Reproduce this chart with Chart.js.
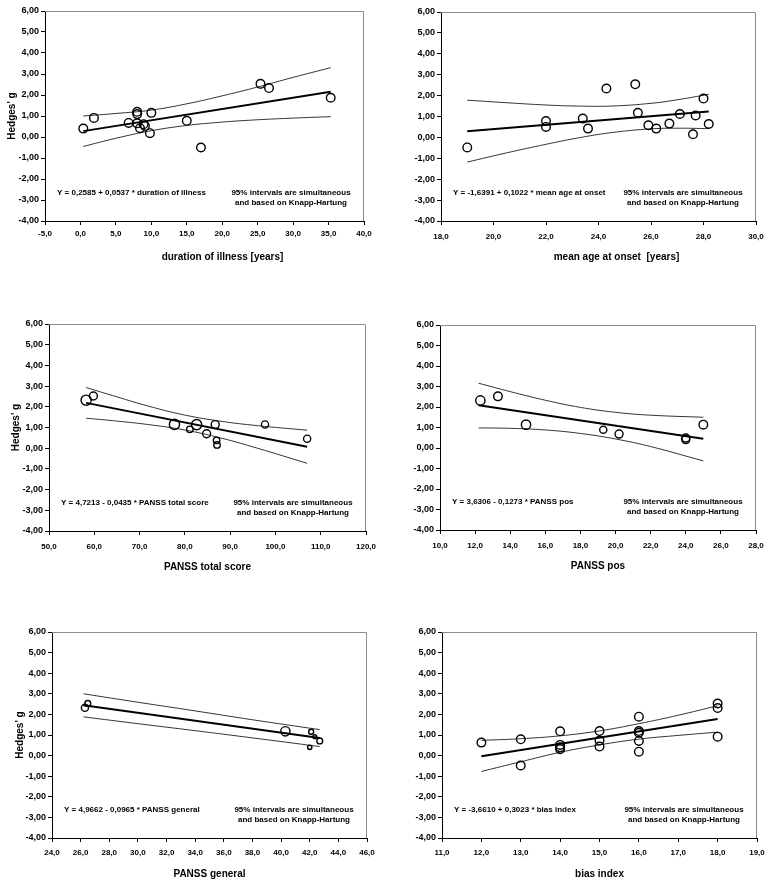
<!DOCTYPE html>
<html>
<head>
<meta charset="utf-8">
<script src="https://cdn.jsdelivr.net/npm/chart.js@4.4.1/dist/chart.umd.min.js"></script>
<style>
  body { margin: 0; background: #fff; width: 773px; height: 885px; position: relative; overflow: hidden; }
  canvas { position: absolute; }
</style>
</head>
<body>
<canvas id="pDuration"></canvas>
<canvas id="pOnset"></canvas>
<canvas id="pTotal"></canvas>
<canvas id="pPos"></canvas>
<canvas id="pGeneral"></canvas>
<canvas id="pBias"></canvas>
<script>
// Duration of illness
const durX = [0.4, 1.9, 6.8, 8.0, 8.0, 8.0, 8.4, 8.9, 9.1, 9.8, 10.0, 15.0, 17.0, 25.4, 26.6, 35.3];
const durY = [0.40, 0.91, 0.67, 1.20, 1.09, 0.65, 0.42, 0.61, 0.52, 0.18, 1.15, 0.77, -0.50, 2.53, 2.33, 1.87];
const durLineX = [0.4, 35.3];
const durLineY = [0.28, 2.15];
const durCiX = [0.4, 5, 10, 15, 20, 25, 30, 35.3];
const durCiUp = [1.00, 1.12, 1.28, 1.58, 1.96, 2.38, 2.84, 3.30];
const durCiLo = [-0.45, -0.06, 0.30, 0.55, 0.71, 0.82, 0.90, 0.97];

// Mean age at onset
const onsetX = [19.0, 22.0, 22.0, 23.4, 23.6, 24.3, 25.4, 25.5, 25.9, 26.2, 26.7, 27.1, 27.6, 27.7, 28.0, 28.2];
const onsetY = [-0.48, 0.78, 0.50, 0.90, 0.42, 2.34, 2.54, 1.18, 0.58, 0.42, 0.66, 1.12, 0.15, 1.05, 1.86, 0.64];
const onsetLineX = [19.0, 28.2];
const onsetLineY = [0.30, 1.24];
const onsetCiX = [19, 20.5, 22, 23.2, 24.5, 26, 27, 28.2];
const onsetCiUp = [1.78, 1.66, 1.55, 1.50, 1.50, 1.63, 1.80, 2.06];
const onsetCiLo = [-1.18, -0.74, -0.33, -0.03, 0.23, 0.41, 0.44, 0.42];

// PANSS total score (weights = relative study weight shown by marker size)
const totX = [58.2, 59.8, 77.7, 81.1, 82.6, 84.8, 86.7, 87.0, 87.1, 97.7, 107.0];
const totY = [2.32, 2.52, 1.15, 0.91, 1.14, 0.70, 1.14, 0.38, 0.16, 1.15, 0.46];
const totW = [1.18, 0.93, 1.18, 0.75, 1.18, 0.93, 0.93, 0.75, 0.75, 0.83, 0.83];
const totLineX = [58.2, 107.0];
const totLineY = [2.19, 0.07];
const totCiX = [58.2, 65, 72, 80, 88, 96, 107];
const totCiUp = [2.93, 2.48, 2.03, 1.60, 1.30, 1.09, 0.87];
const totCiLo = [1.45, 1.31, 1.14, 0.88, 0.49, 0.00, -0.73];

// PANSS pos
const posX = [12.3, 13.3, 14.9, 19.3, 20.2, 24.0, 24.0, 25.0];
const posY = [2.32, 2.52, 1.14, 0.89, 0.68, 0.49, 0.41, 1.14];
const posW = [1.08, 1, 1.08, 0.83, 0.93, 0.93, 0.93, 1];
const posLineX = [12.2, 25.0];
const posLineY = [2.08, 0.45];
const posCiX = [12.2, 14, 16, 18, 20, 22, 25];
const posCiUp = [3.16, 2.75, 2.33, 1.98, 1.74, 1.60, 1.50];
const posCiLo = [0.98, 0.96, 0.88, 0.71, 0.44, 0.07, -0.63];

// PANSS general
const genX = [26.3, 26.5, 40.3, 42.1, 42.35, 42.0, 42.7];
const genY = [2.32, 2.53, 1.18, 1.16, 0.92, 0.40, 0.71];
const genW = [0.83, 0.68, 1.08, 0.58, 0.43, 0.5, 0.68];
const genLineX = [26.2, 42.7];
const genLineY = [2.44, 0.85];
const genCiX = [26.2, 30, 34, 38, 42.7];
const genCiUp = [3.00, 2.59, 2.17, 1.74, 1.26];
const genCiLo = [1.88, 1.55, 1.21, 0.86, 0.44];

// Bias index
const biasX = [12, 13, 13, 14, 14, 14, 14, 15, 15, 15, 16, 16, 16, 16, 16, 18, 18, 18];
const biasY = [0.63, 0.79, -0.48, 1.18, 0.52, 0.40, 0.31, 1.19, 0.73, 0.44, 1.89, 1.19, 1.11, 0.71, 0.19, 2.53, 2.31, 0.92];
const biasLineX = [12, 18];
const biasLineY = [-0.03, 1.78];
const biasCiX = [12, 13, 14, 15, 16, 17, 18];
const biasCiUp = [0.74, 0.82, 0.96, 1.20, 1.55, 1.96, 2.42];
const biasCiLo = [-0.77, -0.30, 0.16, 0.52, 0.80, 0.98, 1.14];

const yTicks = { min: -4, max: 6, step: 1 };
const noteLines = ['95% intervals are simultaneous', 'and based on Knapp-Hartung'];
const FONT = "'Liberation Sans', Arial, sans-serif";
const MARKER = 4.3;

const panels = [
  { id: 'pDuration', box: [0, 0, 390, 290], area: [45, 11, 364, 221],
    x: durX, y: durY, w: null, lineX: durLineX, lineY: durLineY, ciX: durCiX, ciUp: durCiUp, ciLo: durCiLo,
    xMin: -5, xMax: 40, xStep: 5, tickPad: 4, yTitle: 12, xShift: 18,
    xTitle: 'duration of illness [years]', eq: 'Y = 0,2585 + 0,0537 * duration of illness' },
  { id: 'pOnset', box: [390, 0, 383, 290], area: [441, 12, 756, 221],
    x: onsetX, y: onsetY, w: null, lineX: onsetLineX, lineY: onsetLineY, ciX: onsetCiX, ciUp: onsetCiUp, ciLo: onsetCiLo,
    xMin: 18, xMax: 30, xStep: 2, tickPad: 7, yTitle: null, xShift: 18,
    xTitle: 'mean age at onset  [years]', eq: 'Y = -1,6391 + 0,1022 * mean age at onset' },
  { id: 'pTotal', box: [0, 290, 390, 295], area: [49, 324, 366, 531],
    x: totX, y: totY, w: totW, lineX: totLineX, lineY: totLineY, ciX: totCiX, ciUp: totCiUp, ciLo: totCiLo,
    xMin: 50, xMax: 120, xStep: 10, tickPad: 7, yTitle: 16.7, xShift: 0,
    xTitle: 'PANSS total score', eq: 'Y = 4,7213 - 0,0435 * PANSS total score' },
  { id: 'pPos', box: [390, 290, 383, 295], area: [440, 325, 756, 530],
    x: posX, y: posY, w: posW, lineX: posLineX, lineY: posLineY, ciX: posCiX, ciUp: posCiUp, ciLo: posCiLo,
    xMin: 10, xMax: 28, xStep: 2, tickPad: 7, yTitle: null, xShift: 0,
    xTitle: 'PANSS pos', eq: 'Y = 3,6306 - 0,1273 * PANSS pos' },
  { id: 'pGeneral', box: [0, 585, 390, 300], area: [52, 632, 367, 838],
    x: genX, y: genY, w: genW, lineX: genLineX, lineY: genLineY, ciX: genCiX, ciUp: genCiUp, ciLo: genCiLo,
    xMin: 24, xMax: 46, xStep: 2, tickPad: 6, yTitle: 19.8, xShift: 0,
    xTitle: 'PANSS general', eq: 'Y = 4,9662 - 0,0965 * PANSS general' },
  { id: 'pBias', box: [390, 585, 383, 300], area: [442, 632, 757, 838],
    x: biasX, y: biasY, w: null, lineX: biasLineX, lineY: biasLineY, ciX: biasCiX, ciUp: biasCiUp, ciLo: biasCiLo,
    xMin: 11, xMax: 19, xStep: 1, tickPad: 6, yTitle: null, xShift: 0,
    xTitle: 'bias index', eq: 'Y = -3,6610 + 0,3023 * bias index' }
];

// gray frame on top/right + texts inside the plot
const panelNotes = {
  id: 'panelNotes',
  beforeDatasetsDraw(chart) {
    const { ctx, chartArea: a } = chart;
    const t = Math.round(a.top) + 0.5, r = Math.round(a.right) - 0.5;
    ctx.save();
    ctx.strokeStyle = '#8c8c8c';
    ctx.lineWidth = 1;
    ctx.beginPath();
    ctx.moveTo(a.left, t);
    ctx.lineTo(r, t);
    ctx.lineTo(r, a.bottom);
    ctx.stroke();
    ctx.restore();
  },
  afterDraw(chart, args, o) {
    const { ctx, chartArea: a } = chart;
    ctx.save();
    ctx.fillStyle = '#000';
    ctx.textBaseline = 'middle';
    ctx.font = 'bold 8px ' + FONT;
    ctx.textAlign = 'left';
    ctx.fillText(o.eq, a.left + 12, a.bottom - 28);
    ctx.textAlign = 'center';
    ctx.fillText(noteLines[0], a.right - 73, a.bottom - 28);
    ctx.fillText(noteLines[1], a.right - 73, a.bottom - 18.5);
    ctx.font = 'bold 10px ' + FONT;
    ctx.fillText(o.xTitle, (a.left + a.right) / 2 + o.xShift, a.bottom + 36);
    ctx.restore();
  }
};

const pts = (xs, ys) => xs.map((x, i) => ({ x: x, y: ys[i] }));

panels.forEach(p => {
  const [bx, by, bw, bh] = p.box;
  const [l, t, r, b] = p.area;
  const el = document.getElementById(p.id);
  el.width = bw;
  el.height = bh;
  el.style.left = bx + 'px';
  el.style.top = by + 'px';
  const radius = p.w ? p.w.map(w => w * MARKER) : MARKER;

  new Chart(el, {
    type: 'scatter',
    data: {
      datasets: [
        { data: pts(p.x, p.y), pointRadius: radius, pointHoverRadius: radius, pointBorderColor: '#000',
          pointBorderWidth: 1.4, pointBackgroundColor: 'rgba(0,0,0,0)' },
        { data: pts(p.lineX, p.lineY), showLine: true, borderColor: '#000', borderWidth: 2, pointRadius: 0 },
        { data: pts(p.ciX, p.ciUp), showLine: true, borderColor: '#000', borderWidth: 0.8, pointRadius: 0, tension: 0.4 },
        { data: pts(p.ciX, p.ciLo), showLine: true, borderColor: '#000', borderWidth: 0.8, pointRadius: 0, tension: 0.4 }
      ]
    },
    options: {
      responsive: false,
      animation: false,
      devicePixelRatio: 1,
      events: [],
      layout: { padding: { left: 0, top: t - by, right: bx + bw - r, bottom: 0 } },
      scales: {
        x: {
          type: 'linear', min: p.xMin, max: p.xMax,
          ticks: { stepSize: p.xStep, autoSkip: false, maxRotation: 0, padding: p.tickPad, color: '#000',
                   font: { family: FONT, size: 8, weight: 'bold' },
                   callback: v => Number(v).toFixed(1).replace('.', ',') },
          grid: { drawOnChartArea: false, drawTicks: true, tickLength: 4, color: '#000' },
          border: { color: '#000' },
          afterFit: s => { s.height = by + bh - b; }
        },
        y: {
          type: 'linear', min: yTicks.min, max: yTicks.max,
          ticks: { stepSize: yTicks.step, autoSkip: false, padding: 2, color: '#000',
                   font: { family: FONT, size: 9, weight: 'bold' },
                   callback: v => Number(v).toFixed(2).replace('.', ',') },
          grid: { drawOnChartArea: false, drawTicks: true, tickLength: 4, color: '#000' },
          border: { color: '#000' },
          title: { display: p.yTitle !== null, text: "Hedges' g", color: '#000',
                   font: { family: FONT, size: 10, weight: 'bold' },
                   padding: { top: (p.yTitle || 0) - 6, bottom: 0 } },
          afterFit: s => { s.width = l - bx; }
        }
      },
      plugins: {
        legend: { display: false },
        tooltip: { enabled: false },
        panelNotes: { eq: p.eq, xTitle: p.xTitle, xShift: p.xShift }
      }
    },
    plugins: [panelNotes]
  });
});
</script>
</body>
</html>
